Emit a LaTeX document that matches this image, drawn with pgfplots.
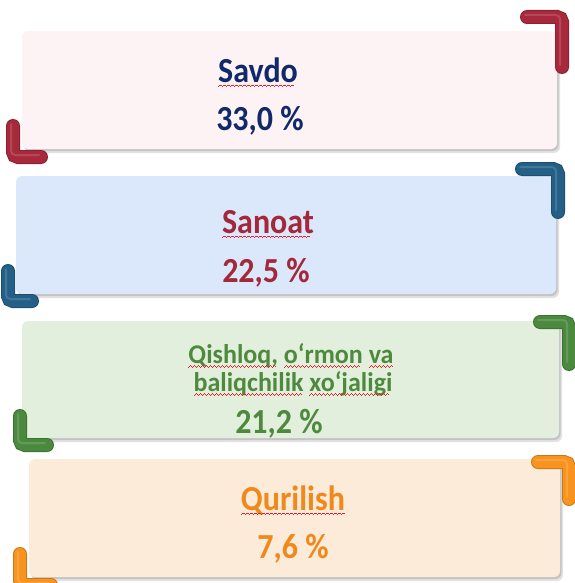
\documentclass[border=0pt]{standalone}
\usepackage{pgfplots}
\pgfplotsset{compat=1.18}
\usepackage{fontspec}
\setmainfont{Carlito}
\usepackage{graphicx}
\definecolor{spell}{HTML}{E8202A}
\definecolor{c1fill}{HTML}{FEF3F4}
\definecolor{c1text}{HTML}{10296A}
\definecolor{c1br}{HTML}{A8293B}
\definecolor{c2fill}{HTML}{DBE8FB}
\definecolor{c2text}{HTML}{A2283A}
\definecolor{c2br}{HTML}{235F86}
\definecolor{c3fill}{HTML}{E3EFDD}
\definecolor{c3text}{HTML}{4E8A3E}
\definecolor{c3br}{HTML}{4B8A3E}
\definecolor{c4fill}{HTML}{FDEBD9}
\definecolor{c4text}{HTML}{F0891C}
\definecolor{c4br}{HTML}{F7931E}
\newcommand\wave{\hbox{\rule[-4.2pt]{1pt}{0.7pt}\rule[-3.6pt]{1pt}{0.7pt}\rule[-3.0pt]{1pt}{0.7pt}\rule[-3.6pt]{1pt}{0.7pt}}}
\newcommand\sq[1]{\setbox0\hbox{#1}\rlap{#1}\textcolor{spell}{\hbox to \wd0{\leaders\wave\hfill}}}
\newcommand\tall[1]{\scalebox{1}[1.1]{#1}}
\newcommand\talls[1]{\scalebox{1}[1.04]{#1}}
\newcommand\bigf{\bfseries\fontsize{32}{36}\selectfont}
\newcommand\midf{\bfseries\fontsize{26}{30}\selectfont}
\newcommand\card[5]{%
  \fill[gray!45, opacity=0.5, rounded corners=6pt] (axis cs:#1+3,#2+4) rectangle (axis cs:#3+3,#4+4);
  \fill[gray!70, opacity=0.5, rounded corners=6pt] (axis cs:#1+1.5,#2+2) rectangle (axis cs:#3+1.5,#4+2);
  \fill[#5, rounded corners=6pt] (axis cs:#1,#2) rectangle (axis cs:#3,#4);}
\newcommand\brk[2]{%
  \draw[line width=14pt, line cap=round, rounded corners=5pt, #1!82!black] #2;
  \draw[line width=12pt, line cap=round, rounded corners=5pt, #1] #2;
  \draw[line width=2pt, line cap=round, rounded corners=4pt, white, opacity=0.15, shift={(-2pt,2pt)}] #2;}
\newcommand\pct[4]{% x, y, value, color
  \addplot[draw=none, point meta=explicit,
    nodes near coords={\tall{\pgfmathprintnumber[fixed,fixed zerofill,precision=1,use comma]{\pgfplotspointmeta}~\%}},
    every node near coord/.append style={anchor=base, inner sep=0pt, text=#4, font=\bigf}]
    coordinates {(#1,#2) [#3]};}
\begin{document}
\begin{tikzpicture}
\begin{axis}[
  scale only axis, width=574pt, height=583pt,
  xmin=0, xmax=574, ymin=0, ymax=583, y dir=reverse,
  hide axis, clip=false,
  /pgf/number format/assume math mode=true,
]
% cards
\card{22}{31}{557}{149}{c1fill}
\card{16}{176}{556}{294}{c2fill}
\card{22}{321}{559}{438}{c3fill}
\card{29}{459}{560}{577}{c4fill}
% brackets
\brk{c1br}{(axis cs:527,17) -- (axis cs:562,17) -- (axis cs:562,67)}
\brk{c1br}{(axis cs:13,126) -- (axis cs:13,157) -- (axis cs:41,157)}
\brk{c2br}{(axis cs:522,169) -- (axis cs:558,169) -- (axis cs:558,212)}
\brk{c2br}{(axis cs:8,271) -- (axis cs:8,301) -- (axis cs:32,301)}
\brk{c3br}{(axis cs:540,322) -- (axis cs:569,322) -- (axis cs:569,364)}
\brk{c3br}{(axis cs:20,416) -- (axis cs:20,445) -- (axis cs:47,445)}
\brk{c4br}{(axis cs:538,462) -- (axis cs:569,462) -- (axis cs:569,499)}
\brk{c4br}{(axis cs:20,554) -- (axis cs:20,585) -- (axis cs:51,585)}
% titles
\node[anchor=base, inner sep=0pt, text=c1text, font=\bigf] at (axis cs:258,82) {\tall{\sq{Savdo}}};
\node[anchor=base, inner sep=0pt, text=c2text, font=\bigf] at (axis cs:268,233) {\tall{\sq{Sanoat}}};
\node[anchor=base, inner sep=0pt, text=c3text, font=\midf] at (axis cs:291,363) {\talls{\sq{Qishloq,} \sq{o‘rmon} \sq{va}}};
\node[anchor=base, inner sep=0pt, text=c3text, font=\midf] at (axis cs:293,391) {\talls{\sq{baliqchilik} \sq{xo‘jaligi}}};
\node[anchor=base, inner sep=0pt, text=c4text, font=\bigf] at (axis cs:293,510) {\tall{\sq{Qurilish}}};
% values
\pct{260}{130}{33.0}{c1text}
\pct{266}{282}{22.5}{c2text}
\pct{279}{433}{21.2}{c3text}
\pct{293}{558}{7.6}{c4text}
\end{axis}
\pgfresetboundingbox
\path (current axis.south west) rectangle (current axis.north east);
\end{tikzpicture}
\end{document}
